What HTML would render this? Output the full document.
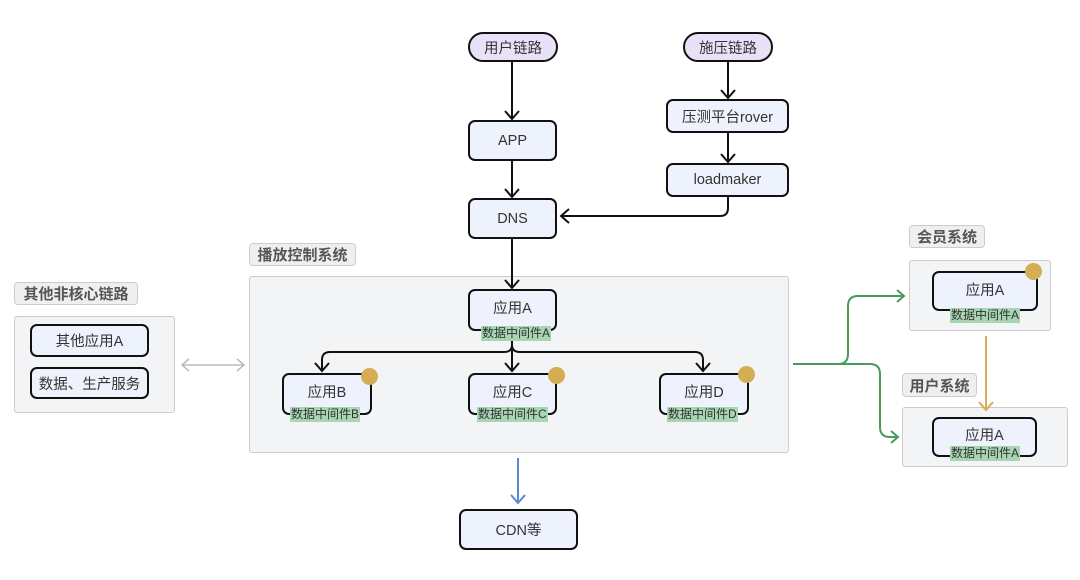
<!DOCTYPE html>
<html><head><meta charset="utf-8"><style>
body{margin:0;width:1080px;height:580px;background:#fff;position:relative;overflow:hidden;font-family:"Liberation Sans","Noto Sans CJK SC",sans-serif;color:#333}
.a{position:absolute;box-sizing:border-box}
.n{background:#eef2fc;border:2px solid #111;border-radius:7px;display:flex;align-items:center;justify-content:center;font-size:14.5px;color:#333}
.p{background:#e9e1f8;border:2px solid #111;border-radius:16px;display:flex;align-items:center;justify-content:center;font-size:14.5px}
.g{background:#f3f4f6;border:1px solid #ccc;border-radius:3px}
.l{background:#eeeff1;border:1px solid #ccc;border-radius:4px;font-size:15px;font-weight:bold;color:#555;display:flex;align-items:center;justify-content:center}
.t{background:#a8d5b2;font-size:12px;color:#333;line-height:15px;padding:0 1px;white-space:nowrap}
.c{width:17px;height:17px;border-radius:50%;background:#d4ad55}
svg{position:absolute;left:0;top:0}
</style></head><body>
<div class="a l" style="left:249px;top:243px;width:107px;height:23px">播放控制系统</div>
<div class="a g" style="left:249px;top:276px;width:540px;height:177px"></div>
<div class="a l" style="left:14px;top:282px;width:124px;height:23px">其他非核心链路</div>
<div class="a g" style="left:14px;top:316px;width:161px;height:97px"></div>
<div class="a l" style="left:909px;top:225px;width:76px;height:23px">会员系统</div>
<div class="a g" style="left:909px;top:260px;width:142px;height:71px"></div>
<div class="a l" style="left:902px;top:373px;width:75px;height:24px">用户系统</div>
<div class="a g" style="left:902px;top:407px;width:166px;height:60px"></div>

<svg width="1080" height="580" fill="none">
<g stroke="#111" stroke-width="2">
<path d="M512 62V119M505 111l7 8 7-8"/>
<path d="M512 161V197M505 189l7 8 7-8"/>
<path d="M728 62V98M721 90l7 8 7-8"/>
<path d="M728 133V162M721 154l7 8 7-8"/>
<path d="M728 197v11q0 8-8 8H561M569 209l-8 7 8 7"/>
<path d="M512 239V288M505 280l7 8 7-8"/>
<path d="M512 340V371M505 363l7 8 7-8"/>
<path d="M512 345q0 7-8 7H330q-8 0-8 8V371M315 363l7 8 7-8"/>
<path d="M512 345q0 7 8 7H695q8 0 8 8V371M696 363l7 8 7-8"/>
</g>
<path d="M518 458V503M511 495l7 8 7-8" stroke="#5b87d6" stroke-width="2"/>
<path d="M182 365H244M189 359l-7 6 7 6M237 359l7 6-7 6" stroke="#bbb" stroke-width="1.5"/>
<path d="M793 364H838q10 0 10-10V306q0-10 10-10H904M897 290l7 6-7 6" stroke="#4a9a5c" stroke-width="2"/>
<path d="M838 364H870q10 0 10 10V427q0 10 10 10H898M891 431l7 6-7 6" stroke="#4a9a5c" stroke-width="2"/>
<path d="M986 336V410M979 402l7 8 7-8" stroke="#d4ad55" stroke-width="2"/>
</svg>

<div class="a p" style="left:468px;top:32px;width:90px;height:30px">用户链路</div>
<div class="a p" style="left:683px;top:32px;width:90px;height:30px">施压链路</div>
<div class="a n" style="left:468px;top:120px;width:89px;height:41px">APP</div>
<div class="a n" style="left:666px;top:99px;width:123px;height:34px">压测平台rover</div>
<div class="a n" style="left:666px;top:163px;width:123px;height:34px">loadmaker</div>
<div class="a n" style="left:468px;top:198px;width:89px;height:41px">DNS</div>

<div class="a n" style="left:468px;top:289px;width:89px;height:42px;padding-bottom:6px">应用A</div>
<div class="a t" style="left:481px;top:326px">数据中间件A</div>
<div class="a n" style="left:282px;top:373px;width:90px;height:42px;padding-bottom:6px">应用B</div>
<div class="a t" style="left:290px;top:407px">数据中间件B</div>
<div class="a c" style="left:361px;top:368px"></div>
<div class="a n" style="left:468px;top:373px;width:89px;height:42px;padding-bottom:6px">应用C</div>
<div class="a t" style="left:477px;top:407px">数据中间件C</div>
<div class="a c" style="left:548px;top:367px"></div>
<div class="a n" style="left:659px;top:373px;width:90px;height:42px;padding-bottom:6px">应用D</div>
<div class="a t" style="left:667px;top:407px">数据中间件D</div>
<div class="a c" style="left:738px;top:366px"></div>

<div class="a n" style="left:459px;top:509px;width:119px;height:41px">CDN等</div>

<div class="a n" style="left:30px;top:324px;width:119px;height:33px">其他应用A</div>
<div class="a n" style="left:30px;top:367px;width:119px;height:32px">数据、生产服务</div>

<div class="a n" style="left:932px;top:271px;width:106px;height:40px;padding-bottom:4px">应用A</div>
<div class="a t" style="left:950px;top:308px">数据中间件A</div>
<div class="a c" style="left:1025px;top:263px"></div>
<div class="a n" style="left:932px;top:417px;width:105px;height:40px;padding-bottom:6px">应用A</div>
<div class="a t" style="left:950px;top:446px">数据中间件A</div>
</body></html>
